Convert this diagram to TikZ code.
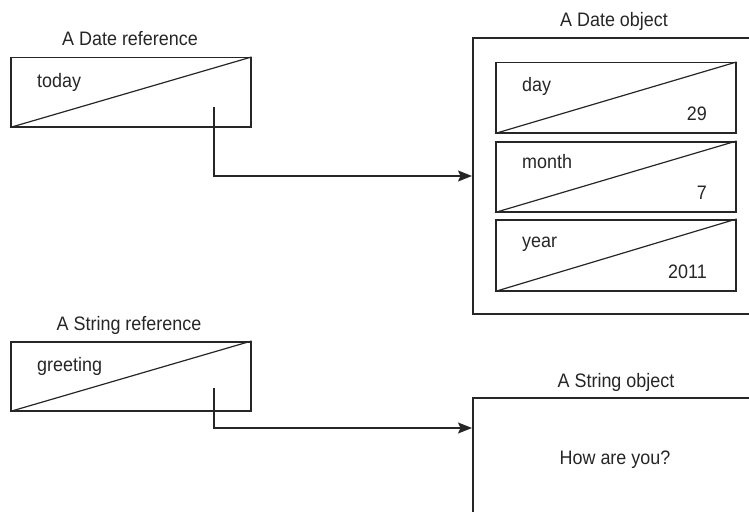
\documentclass[tikz,border=0pt]{standalone}
\usepackage{fontspec}
\setmainfont{Liberation Sans}[FakeStretch=0.92]
\usetikzlibrary{arrows.meta}
\definecolor{ink}{HTML}{262626}
\tikzset{
  cell/.style={draw=ink, line width=1.5pt, anchor=north west, inner sep=0pt, minimum width=240pt},
  outer/.style={draw=ink, line width=1.5pt, anchor=north west, inner sep=0pt, minimum width=300pt},
  diag/.style={draw=ink, line width=1.2pt},
  lbl/.style={text=ink, inner sep=0pt, font=\fontsize{19.5}{22}\selectfont},
  arr/.style={draw=ink, line width=1.5pt, -{Stealth[length=14pt,width=11pt,inset=2.5pt]}}
}
\begin{document}
\begin{tikzpicture}[x=1pt,y=-1pt]
\useasboundingbox (0,0) rectangle (749,511);
\clip (0,0) rectangle (749,511);
% Date reference
\node[lbl, anchor=base] (tdref) at (130,46) {A Date reference};
\node[cell, minimum height=69pt] (dref) at (10,57) {};
\draw[diag] (dref.south west) -- (dref.north east);
\node[lbl, anchor=base west] (today) at (37,87) {today};
% Date object
\node[lbl, anchor=base] (tdobj) at (614,27) {A Date object};
\node[outer, minimum height=275.5pt] (dobj) at (472,37.5) {};
\node[cell, minimum height=70pt] (day) at (495,62) {};
\draw[diag] (day.south west) -- (day.north east);
\node[lbl, anchor=base west] (dayl) at (522,91) {day};
\node[lbl, anchor=base east] (dayv) at (707,120) {29};
\node[cell, minimum height=70pt] (month) at (495,141) {};
\draw[diag] (month.south west) -- (month.north east);
\node[lbl, anchor=base west] (monthl) at (522,168) {month};
\node[lbl, anchor=base east] (monthv) at (707,199) {7};
\node[cell, minimum height=71pt] (year) at (495,219) {};
\draw[diag] (year.south west) -- (year.north east);
\node[lbl, anchor=base west] (yearl) at (522,247) {year};
\node[lbl, anchor=base east] (yearv) at (707,278) {2011};
% String reference
\node[lbl, anchor=base] (tsref) at (129,330) {A String reference};
\node[cell, minimum height=69pt] (sref) at (10,341) {};
\draw[diag] (sref.south west) -- (sref.north east);
\node[lbl, anchor=base west] (greet) at (37,371) {greeting};
% String object
\node[lbl, anchor=base] (tsobj) at (616,387) {A String object};
\node[outer, minimum height=150pt] (sobj) at (472,397) {};
\node[lbl, anchor=base] (how) at (615,464) {How are you?};
% connectors
\coordinate (s1) at (214,107);
\coordinate (s2) at (214,388);
\draw[arr] (s1) |- (dobj.west);
\draw[arr] (s2) |- ([yshift=-31pt]sobj.north west);
\end{tikzpicture}
\end{document}
